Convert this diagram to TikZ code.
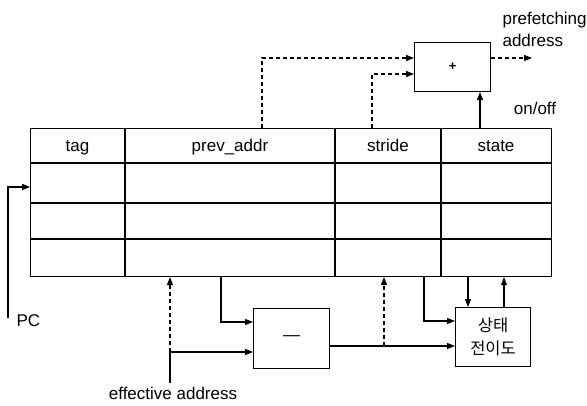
\documentclass[tikz,border=0pt]{standalone}
\usepackage{fontspec}
\setmainfont{Liberation Sans}
\newfontfamily\krfont{Noto Sans CJK KR}
\usetikzlibrary{arrows.meta,calc}
\begin{document}
\begin{tikzpicture}[x=1pt,y=-1pt,
  line width=1.1pt,
  font=\fontsize{17}{20}\selectfont,
  tip/.style={-{Triangle[length=8pt,width=6pt]}},
  dsh/.style={dash pattern=on 4pt off 3pt},
  blk/.style={draw, inner sep=0pt, anchor=north west},
  lbl/.style={inner sep=0pt},
  hdr/.style={inner sep=0pt, anchor=base}]
\useasboundingbox (0,0) rectangle (587,405);
% table
\node[blk, minimum width=521pt, minimum height=148pt] (tbl) at (30,128) {};
\draw (tbl.north west |- 0,163) -- (tbl.north east |- 0,163);
\draw (tbl.north west |- 0,203) -- (tbl.north east |- 0,203);
\draw (tbl.north west |- 0,239) -- (tbl.north east |- 0,239);
\draw (125,128) -- (125,276);
\draw (335,128) -- (335,276);
\draw (441,128) -- (441,276);
\node[hdr] (tag) at (77.5,151.5) {tag};
\node[hdr] (prev) at (230,151.5) {prev\_addr};
\node[hdr] (stride) at (388,151.5) {stride};
\node[hdr] (state) at (496,151.5) {state};
% boxes
\node[blk, minimum width=76pt, minimum height=49pt] (plus) at (414,42) {};
\node[lbl] (plustxt) at (plus.center) {\fontsize{13}{15}\selectfont\bfseries +};
\node[blk, minimum width=76pt, minimum height=60pt] (minus) at (253,308) {};
\node[lbl] (minustxt) at (minus.center) {—};
\node[blk, minimum width=75pt, minimum height=59pt] (fsm) at (455,307) {};
\node[lbl, align=center, font=\krfont\fontsize{16.5}{23}\selectfont] (fsmtxt) at (fsm.center) {상태\\전이도};
% labels
\node[hdr, anchor=base west] (pf1) at (502,24) {prefetching};
\node[hdr, anchor=base west] (pf2) at (502,46) {address};
\node[hdr] (onoff) at (535,114) {on/off};
\node[hdr, anchor=base west] (pc) at (16,326) {PC};
\node[hdr] (ea) at (173,399) {effective address};
% helper coordinates
\coordinate (pfend) at (532,58);
\coordinate (pcstart) at (8,318);
\coordinate (eastart) at (170,383);
\coordinate (eaj) at (170,352);
% connectors to plus
\draw[dsh, tip] (tbl.north -| 262,0) |- (plus.west |- 0,58);
\draw[dsh, tip] (tbl.north -| 372,0) |- (plus.west |- 0,74);
\draw[tip] (tbl.north -| 480,0) -- (plus.south -| 480,0);
\draw[dsh, tip] (plus.east |- pfend) -- (pfend);
% PC
\draw[tip] (pcstart) |- (tbl.west |- 0,187);
% effective address
\draw (eastart) -- (eaj);
\draw[dsh, tip] (eaj) -- (tbl.south -| eaj);
\draw[tip] (eaj) -- (minus.west |- eaj);
\draw[tip] (tbl.south -| 221,0) |- (minus.west |- 0,322);
% minus output
\draw[tip] (minus.east |- 0,346) -- (fsm.west |- 0,346);
\draw[dsh, tip] (384,346) -- (tbl.south -| 384,0);
% state transitions
\draw[tip] (tbl.south -| 424,0) |- (fsm.west |- 0,321);
\draw[tip] (tbl.south -| 468,0) -- (fsm.north -| 468,0);
\draw[tip] (fsm.north -| 504,0) -- (tbl.south -| 504,0);
\end{tikzpicture}
\end{document}
